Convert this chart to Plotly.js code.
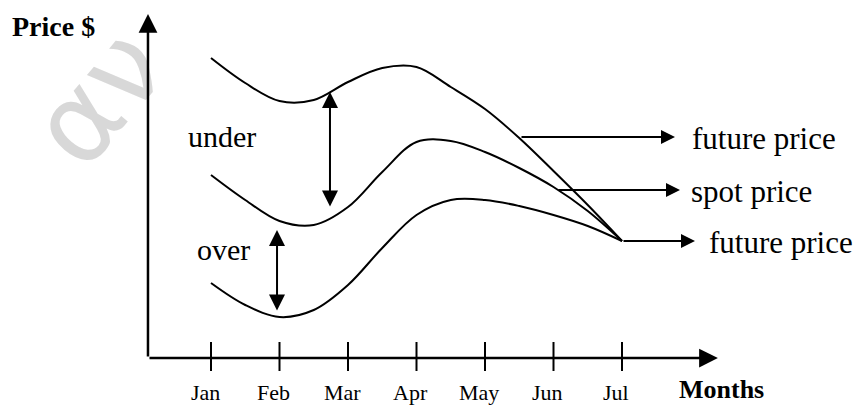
<!DOCTYPE html>
<html>
<head>
<meta charset="utf-8">
<script src="https://cdn.plot.ly/plotly-3.0.1.min.js"></script>
<style>html,body{margin:0;padding:0;background:#fff;}#chart{width:857px;height:406px;}</style>
</head>
<body>
<div id="chart"></div>
<script>
// Month categories and tick labels (Jan = 1 ... Jul = 7)
const months = ["Jan", "Feb", "Mar", "Apr", "May", "Jun", "Jul"];
const monthPos = [1, 2, 3, 4, 5, 6, 7];
// Sample positions along the time axis (half-month steps)
const samples = [1, 1.5, 2, 2.5, 3, 3.5, 4, 4.5, 5, 5.5, 6, 6.5, 7];
// Price readings (arbitrary price units) at each sample
const futureUnder = [30.0, 27.5, 25.7, 25.8, 27.6, 29.0, 29.1, 27.1, 24.9, 22.0, 18.7, 15.3, 11.7];
const spotPrice   = [18.3, 15.8, 13.7, 13.3, 15.1, 18.6, 21.6, 21.7, 20.6, 19.0, 17.1, 14.7, 11.7];
const futureOver  = [7.5, 5.3, 4.1, 4.8, 7.3, 11.0, 14.3, 15.8, 15.8, 15.2, 14.3, 13.2, 11.7];
const curveNames = ["future price", "spot price", "future price"];
const axisLabels = {x: "Months", y: "Price $"};
const gapLabels = ["under", "over"];
const watermark = "αν";

const serif = "Liberation Serif, Times New Roman, serif";
const black = "#000000";

function curve(y, name) {
  return {x: samples, y: y, name: name, type: "scatter", mode: "lines",
          line: {color: black, width: 2, shape: "spline", smoothing: 1}, hoverinfo: "skip"};
}
const data = [curve(futureUnder, curveNames[0]), curve(spotPrice, curveNames[1]), curve(futureOver, curveNames[2])];

const shapes = monthPos.map(m => ({type: "line", xref: "x", yref: "y", x0: m, x1: m, y0: 1.6, y1: -1.3,
  line: {color: black, width: 2}}));

function arrow(x, y, ax, ay, opts) {
  return Object.assign({x: x, y: y, ax: ax, ay: ay, xref: "x", yref: "y", axref: "x", ayref: "y",
    text: "", showarrow: true, arrowhead: 2, arrowsize: 1.4, arrowwidth: 2, arrowcolor: black, standoff: 0, startstandoff: 0}, opts || {});
}
function label(text, x, y, size, opts) {
  return Object.assign({x: x, y: y, xref: "x", yref: "y", text: text, showarrow: false,
    font: {family: serif, size: size, color: black}}, opts || {});
}

const last = samples.length - 1;
const annotations = [
  // faint watermark
  {x: 0.114, y: 0.76, xref: "paper", yref: "paper", xanchor: "center", yanchor: "middle", text: watermark,
   showarrow: false, textangle: -50, font: {family: "DejaVu Sans", size: 112, color: "rgba(200,200,200,0.7)"}},
  // axes
  arrow(0.08, 34.4, 0.08, 0, {arrowwidth: 2.5, arrowsize: 1.5}),
  arrow(8.4, 0, 0.08, 0, {arrowwidth: 2.5, arrowsize: 1.5}),
  // double arrows
  arrow(2.737, 26.6, 2.737, 15.0, {arrowside: "end+start", startarrowhead: 2, arrowsize: 1.6, startarrowsize: 1.6}),
  arrow(1.964, 12.8, 1.964, 4.6, {arrowside: "end+start", startarrowhead: 2, arrowsize: 1.6, startarrowsize: 1.6}),
  // pointer arrows to curve names
  arrow(7.774, 22.1, 5.511, 22.1),
  arrow(7.847, 16.8, 6.051, 16.8),
  arrow(8.066, futureOver[last], samples[last], futureOver[last]),
  // curve names
  label(curveNames[0], 7.99, 22.0, 31, {xanchor: "left"}),
  label(curveNames[1], 7.98, 16.7, 31, {xanchor: "left"}),
  label(curveNames[2], 8.24, 11.6, 31, {xanchor: "left"}),
  // gap labels
  label(gapLabels[0], 0.63, 22.2, 30, {xanchor: "left"}),
  label(gapLabels[1], 0.76, 10.9, 30, {xanchor: "left"}),
  // axis titles
  label("<b>" + axisLabels.y + "</b>", -1.93, 33.2, 28, {xanchor: "left"}),
  label("<b>" + axisLabels.x + "</b>", 7.80, -3.1, 26, {xanchor: "left"})
];
months.forEach((t, i) => annotations.push(label(t, monthPos[i], -3.4, 22, {xshift: -6})));

const layout = {
  width: 857, height: 406,
  margin: {l: 0, r: 0, t: 0, b: 0},
  paper_bgcolor: "#ffffff", plot_bgcolor: "#ffffff",
  showlegend: false,
  xaxis: {range: [-2.0803, 10.4307], visible: false, fixedrange: true},
  yaxis: {range: [-4.8, 35.8], visible: false, fixedrange: true},
  shapes: shapes,
  annotations: annotations
};
Plotly.newPlot("chart", data, layout, {staticPlot: true, displayModeBar: false});
</script>
</body>
</html>
